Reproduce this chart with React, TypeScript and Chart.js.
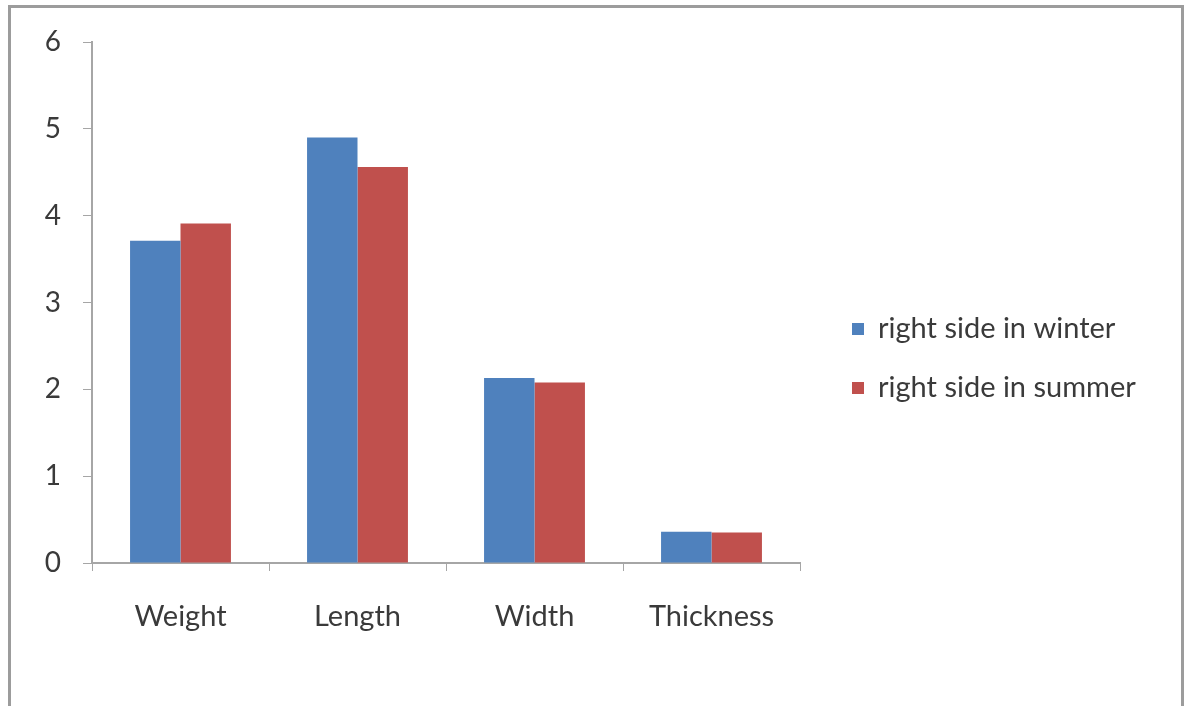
import React, { useEffect, useRef } from "react";
import { Chart, registerables } from "chart.js";

Chart.register(...registerables);

const categories = ["Weight", "Length", "Width", "Thickness"];
const winterValues = [3.71, 4.9, 2.13, 0.36];
const summerValues = [3.91, 4.56, 2.08, 0.35];
const seriesLabels = ["right side in winter", "right side in summer"];
const yTicks = [0, 1, 2, 3, 4, 5, 6];

const FONT = "Lato, 'Open Sans', sans-serif";
const TEXT = "#3a3a3a";
const AXIS = "#a6a6a6";

// Legend drawn at the right side of the plot, entries stacked vertically.
const sideLegend = {
  id: "sideLegend",
  afterDraw(chart: any) {
    const ctx = chart.ctx;
    ctx.save();
    ctx.font = `29px ${FONT}`;
    ctx.textBaseline = "middle";
    ctx.textAlign = "left";
    const x = 852;
    const rows = [329, 388];
    chart.data.datasets.forEach((ds: any, i: number) => {
      const y = rows[i];
      ctx.fillStyle = ds.backgroundColor;
      ctx.fillRect(x, y - 6, 12, 12);
      ctx.fillStyle = TEXT;
      ctx.fillText(ds.label, x + 26, y);
    });
    ctx.restore();
  },
};

export default function App() {
  const ref = useRef<HTMLCanvasElement>(null);

  useEffect(() => {
    if (!ref.current) return;
    const chart = new Chart(ref.current, {
      type: "bar",
      data: {
        labels: categories,
        datasets: [
          { label: seriesLabels[0], data: winterValues, backgroundColor: "#4F81BD" },
          { label: seriesLabels[1], data: summerValues, backgroundColor: "#C0504D" },
        ],
      },
      plugins: [sideLegend],
      options: {
        animation: false,
        responsive: false,
        maintainAspectRatio: false,
        layout: { padding: { left: 0, right: 388, top: 42, bottom: 0 } },
        plugins: { legend: { display: false }, tooltip: { enabled: false } },
        datasets: { bar: { categoryPercentage: 0.57, barPercentage: 1 } },
        scales: {
          x: {
            afterFit: (s: any) => {
              s.height = 143;
            },
            grid: {
              display: true,
              drawOnChartArea: false,
              drawTicks: true,
              tickLength: 8,
              color: AXIS,
              offset: true,
            },
            border: { display: true, color: AXIS, width: 2 },
            ticks: { color: TEXT, font: { family: FONT, size: 29 }, padding: 28 },
          },
          y: {
            min: 0,
            max: 6,
            afterFit: (s: any) => {
              s.width = 92;
            },
            afterBuildTicks: (s: any) => {
              s.ticks = yTicks.map((v) => ({ value: v }));
            },
            grid: {
              display: true,
              drawOnChartArea: false,
              drawTicks: true,
              tickLength: 9,
              color: AXIS,
            },
            border: { display: true, color: AXIS, width: 2 },
            ticks: { color: TEXT, font: { family: FONT, size: 28 }, padding: 22 },
          },
        },
      },
    });
    return () => chart.destroy();
  }, []);

  return (
    <div style={{ position: "fixed", left: 0, top: 0, width: 1188, height: 706, background: "#fff", overflow: "hidden" }}>
      <div
        style={{
          position: "absolute",
          left: 8,
          top: 5,
          width: 1170,
          height: 720,
          border: "3px solid #9c9c9c",
        }}
      />
      <canvas ref={ref} width={1188} height={706} style={{ position: "absolute", left: 0, top: 0 }} />
    </div>
  );
}
